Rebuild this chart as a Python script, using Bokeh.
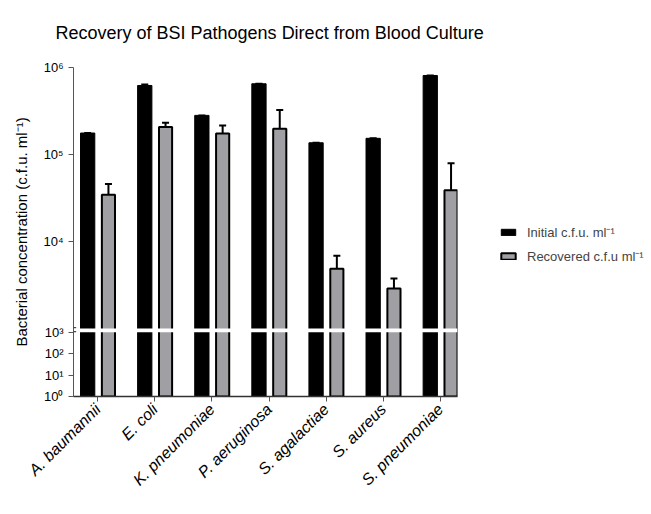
import math
from bokeh.plotting import figure
from bokeh.models import (Range1d, FixedTicker, Legend, LegendItem, Whisker, TeeHead,
                          ColumnDataSource, Label)
from bokeh.embed import file_html
from bokeh.resources import INLINE

title_text = "Recovery of BSI Pathogens Direct from Blood Culture"
y_label = "Bacterial concentration (c.f.u. ml\u207b\u00b9)"
species = ["A. baumannii", "E. coli", "K. pneumoniae", "P. aeruginosa",
           "S. agalactiae", "S. aureus", "S. pneumoniae"]
initial = [1.76e5, 6.21e5, 2.81e5, 6.5e5, 1.36e5, 1.53e5, 8.09e5]
initial_err = [1.76e5, 6.38e5, 2.81e5, 6.5e5, 1.36e5, 1.53e5, 8.09e5]
recovered = [3.44e4, 2.07e5, 1.74e5, 1.97e5, 4.81e3, 2.86e3, 3.86e4]
recovered_err = [4.57e4, 2.31e5, 2.15e5, 3.24e5, 6.8e3, 3.72e3, 7.89e4]
tick_values = [1, 10, 100, 1e3, 1e4, 1e5, 1e6]
tick_labels = ["10\u2070", "10\u00b9", "10\u00b2", "10\u00b3", "10\u2074", "10\u2075", "10\u2076"]
legend_labels = ["Initial c.f.u. ml\u207b\u00b9", "Recovered c.f.u ml\u207b\u00b9"]

# broken log axis: 10^0..10^3 compressed, 10^3..10^6 expanded
LOW = 21.33
HIGH = 87.0
BREAK_LO = 64.0
BREAK_HI = 68.5


def tf(v):
    L = math.log10(v)
    if L <= 3:
        return L * LOW
    return BREAK_HI + (L - 3) * HIGH


FONT = "Liberation Sans"
GRAY = "#a09fa4"

x = list(range(len(species)))
src_i = ColumnDataSource(dict(x=[i - 0.177 for i in x], top=[tf(v) for v in initial],
                              err=[tf(v) for v in initial_err]))
src_r = ColumnDataSource(dict(x=[i + 0.187 for i in x], top=[tf(v) for v in recovered],
                              err=[tf(v) for v in recovered_err]))

p = figure(frame_width=384, frame_height=329, output_backend="svg", toolbar_location=None,
           x_range=Range1d(-0.425, 6.30), y_range=Range1d(0, tf(1e6)),
           min_border_left=73, min_border_right=178, min_border_top=66, min_border_bottom=96)
p.title.text = title_text
p.title.text_font = FONT
p.title.text_font_size = "18px"
p.title.text_font_style = "normal"
p.title.text_color = "black"
p.title.align = "left"
p.title.offset = -18
p.title.standoff = 45
p.title.vertical_align = "top"

r_i = p.vbar(x="x", top="top", bottom=0, width=0.25, source=src_i,
             fill_color="black", line_color="black", line_width=1)
r_r = p.vbar(x="x", top="top", bottom=0, width=0.23, source=src_r,
             fill_color=GRAY, line_color="black", line_width=2)

p.add_layout(Whisker(source=src_i, base="x", lower="top", upper="err", dimension="height",
                     line_color="black", line_width=2, lower_head=None,
                     upper_head=TeeHead(size=7, line_width=2, line_color="black")))
p.add_layout(Whisker(source=src_r, base="x", lower="top", upper="err", dimension="height",
                     line_color="black", line_width=2, lower_head=None,
                     upper_head=TeeHead(size=7, line_width=2, line_color="black")))

# white break band
p.quad(left=-0.425, right=6.30, bottom=BREAK_LO + 0.3, top=BREAK_HI - 0.5,
       fill_color="white", line_color=None)
p.add_layout(Label(x=-0.425, y=(BREAK_LO + BREAK_HI) / 2, text="=", x_offset=-1,
                   text_align="center", text_baseline="middle", text_font=FONT,
                   text_font_size="14px", text_color="#444444"))

p.grid.visible = False
p.outline_line_color = None

yax = p.yaxis[0]
ticks_pos = [tf(v) for v in tick_values]
yax.ticker = FixedTicker(ticks=ticks_pos)
yax.major_label_overrides = {t: l for t, l in zip(ticks_pos, tick_labels)}
yax.minor_tick_line_color = None
yax.major_tick_in = 0
yax.major_tick_out = 5
yax.axis_line_color = "#555555"
yax.major_tick_line_color = "#555555"
yax.major_label_text_font = FONT
yax.major_label_text_font_size = "13px"
yax.major_label_text_color = "black"
yax.axis_label = y_label
yax.axis_label_text_font = FONT
yax.axis_label_text_font_size = "15px"
yax.axis_label_text_font_style = "normal"
yax.axis_label_text_color = "black"
yax.axis_label_standoff = 10

xax = p.xaxis[0]
xax.ticker = FixedTicker(ticks=x)
xax.major_label_overrides = {i: s for i, s in zip(x, species)}
xax.major_label_orientation = math.pi / 4
xax.major_label_text_font = FONT
xax.major_label_text_font_size = "16px"
xax.major_label_text_font_style = "italic"
xax.major_label_text_color = "black"
xax.minor_tick_line_color = None
xax.major_tick_in = 0
xax.major_tick_out = 5
xax.axis_line_color = "#333333"
xax.axis_line_width = 1.5
xax.major_tick_line_color = "#555555"

legend = Legend(items=[LegendItem(label=legend_labels[0], renderers=[r_i]),
                       LegendItem(label=legend_labels[1], renderers=[r_r])],
                location=(42, 131), glyph_width=18, glyph_height=8,
                label_text_font=FONT, label_text_font_size="13px", label_standoff=10,
                spacing=6, padding=0, margin=0, border_line_color=None,
                background_fill_alpha=0)
p.add_layout(legend, "right")

open("out.html", "w").write(file_html(p, INLINE))
